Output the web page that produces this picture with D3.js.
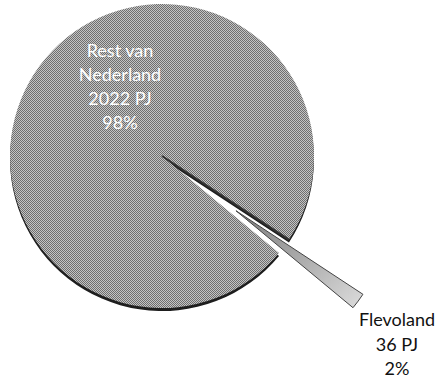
<!DOCTYPE html>
<html><head><meta charset="utf-8">
<script src="https://cdn.jsdelivr.net/npm/d3@7"></script>
<style>html,body{margin:0;padding:0;background:#fff;}svg{display:block;}</style>
</head><body>
<script>
const categories = ["Rest van Nederland", "Flevoland"];
const valuesPJ = [2022, 36];
const valueLabels = ["2022 PJ", "36 PJ"];
const percentLabels = ["98%", "2%"];

const W = 438, H = 378;
const cx = 162, cy = 156, R = 152;
const explode = 92;
const flevoMid = 126.5 * Math.PI / 180;

const svg = d3.select("body").append("svg").attr("width", W).attr("height", H);
const defs = svg.append("defs");
const pat = defs.append("pattern").attr("id", "dither").attr("width", 2).attr("height", 2)
  .attr("patternUnits", "userSpaceOnUse");
pat.append("rect").attr("width", 2).attr("height", 2).attr("fill", "#c4c4c4");
pat.append("rect").attr("width", 1).attr("height", 1).attr("fill", "#6e6e6e");
pat.append("rect").attr("x", 1).attr("y", 1).attr("width", 1).attr("height", 1).attr("fill", "#6e6e6e");

const grad = defs.append("linearGradient").attr("id", "sliceGrad")
  .attr("x1", "0%").attr("y1", "0%").attr("x2", "100%").attr("y2", "100%");
grad.append("stop").attr("offset", "0%").attr("stop-color", "#7a7a7a");
grad.append("stop").attr("offset", "100%").attr("stop-color", "#dcdcdc");

const total = d3.sum(valuesPJ);
const flevoSpan = 2 * Math.PI * valuesPJ[1] / total;
const start = flevoMid + flevoSpan / 2;
const pie = d3.pie().sort(null).startAngle(start).endAngle(start + 2 * Math.PI);
const arcs = pie(valuesPJ);
const arc = d3.arc().innerRadius(0).outerRadius(R);

const g = svg.append("g").attr("transform", `translate(${cx},${cy})`);

// dark rim (3D thickness)
g.append("path").datum(arcs[0]).attr("d", arc).attr("transform", "translate(0,3)").attr("fill", "#1e1e1e");
// main slice
g.append("path").datum(arcs[0]).attr("d", arc).attr("fill", "url(#dither)");

// gap line (dark side)
const a0 = arcs[1].startAngle;
g.append("line").attr("x1", 0).attr("y1", 0)
  .attr("x2", R * Math.sin(a0)).attr("y2", -R * Math.cos(a0))
  .attr("stroke", "#333").attr("stroke-width", 2);

// exploded slice
const ox = explode * Math.sin(flevoMid), oy = -explode * Math.cos(flevoMid);
const sg = g.append("g").attr("transform", `translate(${ox},${oy})`);
sg.append("path").datum(arcs[1]).attr("d", arc).attr("fill", "url(#sliceGrad)")
  .attr("stroke", "#444").attr("stroke-width", 1);

// labels
const restLines = ["Rest van", "Nederland", valueLabels[0], percentLabels[0]];
const t1 = svg.append("text").attr("x", 120).attr("y", 57).attr("text-anchor", "middle")
  .attr("font-family", "Lato, sans-serif").attr("font-size", 18).attr("fill", "#fff");
restLines.forEach((s, i) => t1.append("tspan").attr("x", 120).attr("dy", i ? 24 : 0).text(s));

const flLines = ["Flevoland", valueLabels[1], percentLabels[1]];
const t2 = svg.append("text").attr("x", 397).attr("y", 326).attr("text-anchor", "middle")
  .attr("font-family", "Lato, sans-serif").attr("font-size", 18).attr("fill", "#111");
flLines.forEach((s, i) => t2.append("tspan").attr("x", 397).attr("dy", i ? 24.5 : 0).text(s));
</script>
</body></html>
